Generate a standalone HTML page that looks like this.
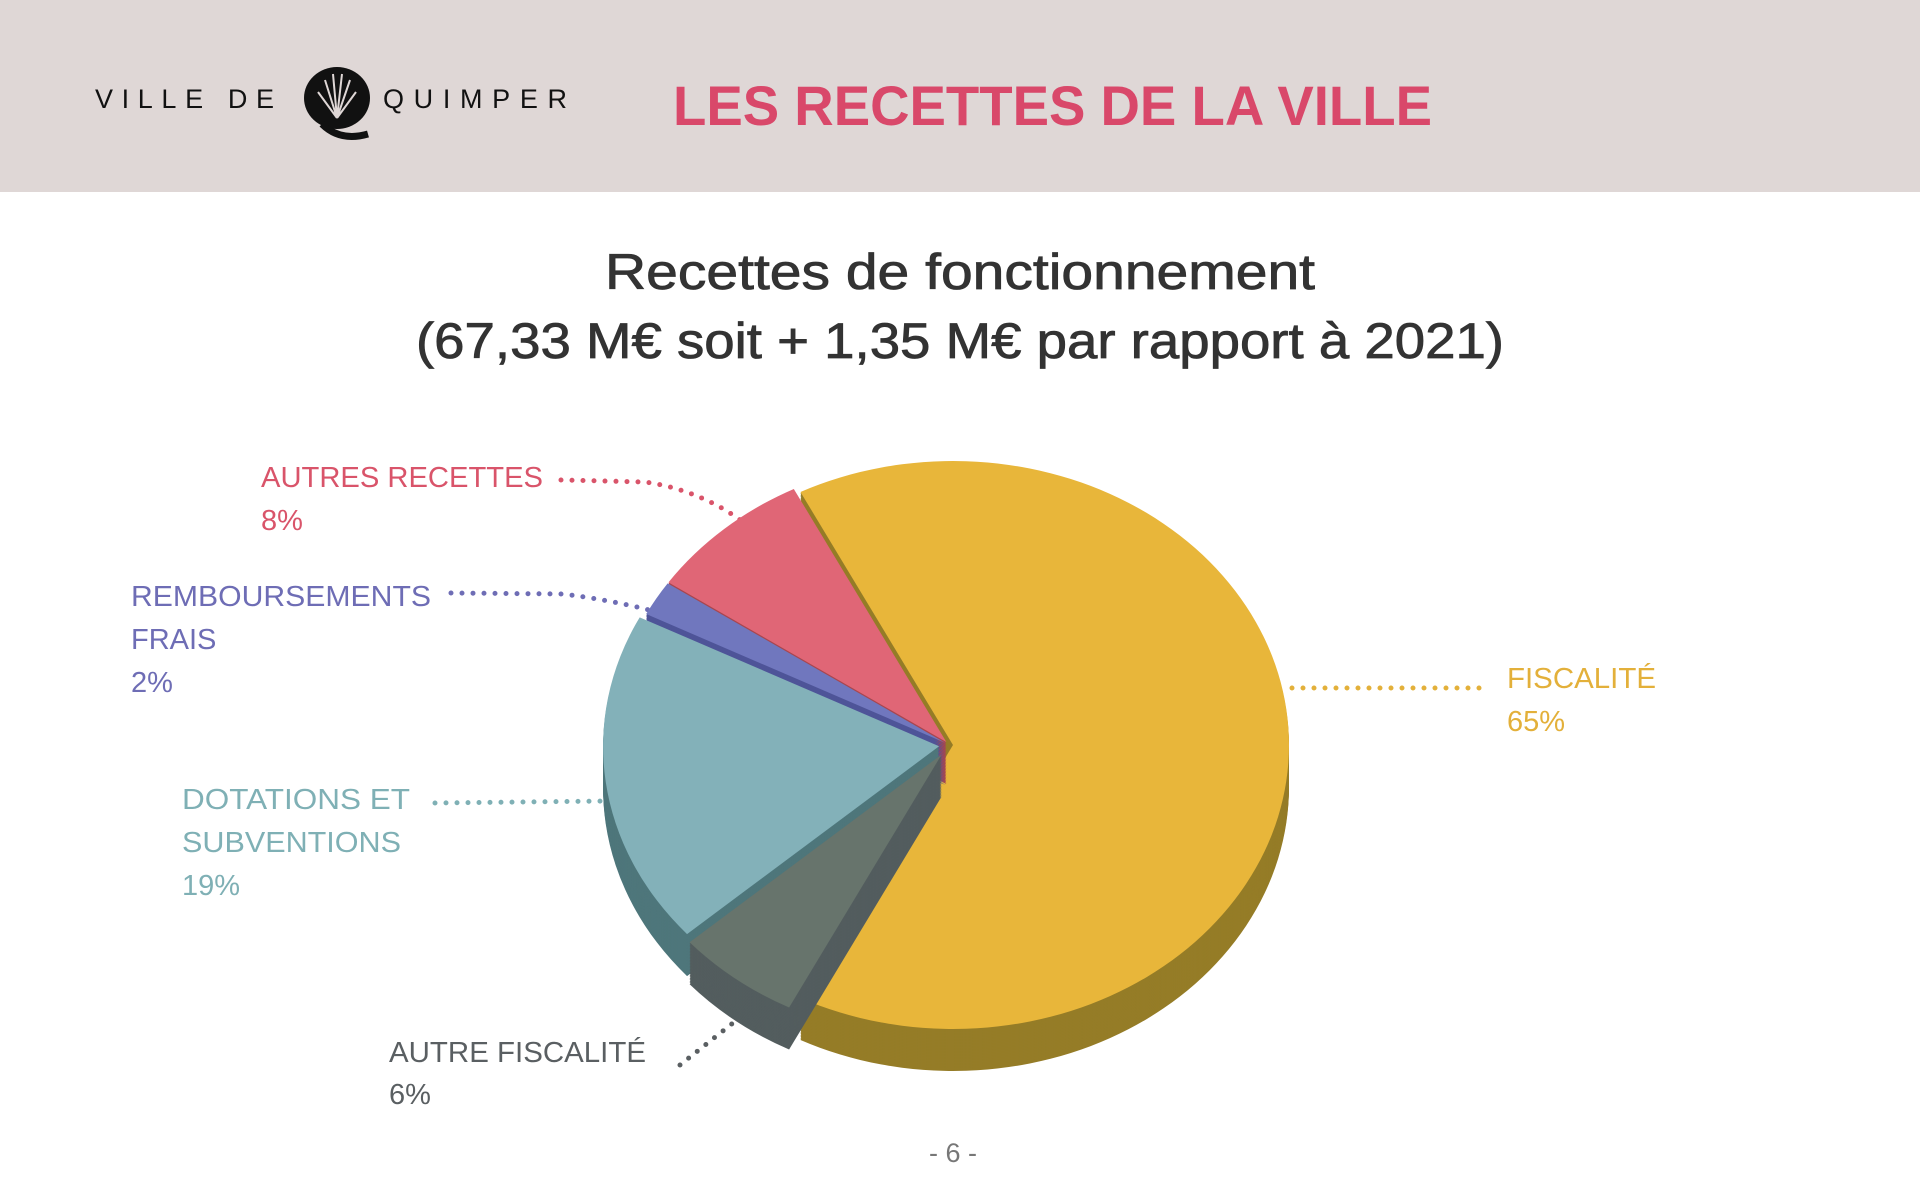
<!DOCTYPE html>
<html><head><meta charset="utf-8">
<style>
html,body{margin:0;padding:0;background:#fff;}
svg{display:block;font-family:"Liberation Sans",sans-serif;}
</style></head>
<body>
<svg id="page" width="1920" height="1201" viewBox="0 0 1920 1201" xmlns="http://www.w3.org/2000/svg">
  <rect x="0" y="0" width="1920" height="192" fill="#DFD7D6"/>
  <g>
    <text x="95" y="108" font-size="27" fill="#111" letter-spacing="9" textLength="188">VILLE DE</text>
    <g>
      <ellipse cx="337" cy="98" rx="33" ry="31" fill="#111"/>
      <path d="M322 124 Q340 142 368 134" stroke="#111" stroke-width="7" fill="none"/>
      <path d="M337 118 L325 80 M337 118 L333 74 M337 118 L342 74 M337 118 L350 80 M337 118 L318 92 M337 118 L356 92" stroke="#DFD7D6" stroke-width="2" fill="none"/>
    </g>
    <text x="383" y="108" font-size="27" fill="#111" letter-spacing="9" textLength="193">QUIMPER</text>
  </g>
  <text x="673" y="125" font-size="56" font-weight="bold" fill="#D9486A" textLength="759" lengthAdjust="spacingAndGlyphs">LES RECETTES DE LA VILLE</text>
  <text x="605" y="289" font-size="50" fill="#333" stroke="#333" stroke-width="0.8" textLength="710" lengthAdjust="spacingAndGlyphs">Recettes de fonctionnement</text>
  <text x="416" y="358" font-size="50" fill="#333" stroke="#333" stroke-width="0.8" textLength="1088" lengthAdjust="spacingAndGlyphs">(67,33 M€ soit + 1,35 M€ par rapport à 2021)</text>

  <g id="leaders" fill="none" stroke-width="5" stroke-linecap="round" stroke-dasharray="0 11">
    <path d="M561 480 L645 482 Q700 490 743 522" stroke="#D9546A"/>
    <path d="M451 593 L563 594 Q610 600 649 610" stroke="#6E6DB5"/>
    <path d="M435 803 L609 801" stroke="#7FB0B5"/>
    <path d="M680 1065 L772 992" stroke="#5A5F62"/>
    <path d="M1292 688 L1488 688" stroke="#E3B03A"/>
  </g>

  <g id="pie"></g>

  <g font-size="29">
    <g fill="#D9546A">
      <text x="261" y="487" textLength="282" lengthAdjust="spacingAndGlyphs">AUTRES RECETTES</text>
      <text x="261" y="530">8%</text>
    </g>
    <g fill="#6E6DB5">
      <text x="131" y="606" textLength="300" lengthAdjust="spacingAndGlyphs">REMBOURSEMENTS</text>
      <text x="131" y="649">FRAIS</text>
      <text x="131" y="692">2%</text>
    </g>
    <g fill="#7FB0B5">
      <text x="182" y="809" textLength="228" lengthAdjust="spacingAndGlyphs">DOTATIONS ET</text>
      <text x="182" y="852" textLength="219" lengthAdjust="spacingAndGlyphs">SUBVENTIONS</text>
      <text x="182" y="895">19%</text>
    </g>
    <g fill="#5A5F62">
      <text x="389" y="1062" textLength="257" lengthAdjust="spacingAndGlyphs">AUTRE FISCALITÉ</text>
      <text x="389" y="1104">6%</text>
    </g>
    <g fill="#E3B03A">
      <text x="1507" y="688" textLength="149" lengthAdjust="spacingAndGlyphs">FISCALITÉ</text>
      <text x="1507" y="731">65%</text>
    </g>
  </g>
  <text x="953" y="1162" font-size="27" fill="#777" text-anchor="middle">- 6 -</text>
</svg>
<script>
const categories = ["Fiscalité", "Autre fiscalité", "Dotations et subventions", "Remboursements frais", "Autres recettes"];
const values = [65, 6, 19, 2, 8];
const topColors = ["#E8B63A", "#67746C", "#83B1B9", "#7077BE", "#E06676"];
const sideColors = ["#957C27", "#535D5E", "#4E767B", "#4E5498", "#A8464F"];

const cx = 949, cy = 745, rx = 336, ry = 284, depth = 42, startDeg = -27;
const NS = "http://www.w3.org/2000/svg";
const pie = document.getElementById("pie");
const total = values.reduce((a, b) => a + b, 0);
const explode = [4, 12, 10, 4, 4];
const drawOrder = [0, 4, 3, 2, 1];
function pt(deg, ox, oy) {
  const r = deg * Math.PI / 180;
  return [cx + ox + rx * Math.sin(r), cy + oy - ry * Math.cos(r)];
}
function slicePath(a0, a1, ox, oy) {
  const p0 = pt(a0, ox, oy), p1 = pt(a1, ox, oy);
  const large = (a1 - a0) > 180 ? 1 : 0;
  return `M${cx + ox},${cy + oy} L${p0[0]},${p0[1]} A${rx},${ry} 0 ${large} 1 ${p1[0]},${p1[1]} Z`;
}
const slices = [];
let acc = startDeg;
values.forEach((v, i) => {
  const a0 = acc, a1 = acc + v / total * 360;
  acc = a1;
  const mid = (a0 + a1) / 2 * Math.PI / 180;
  const ex = explode[i];
  slices.push({ i, a0, a1, ox: ex * Math.sin(mid), oy: -ex * Math.cos(mid) });
});
drawOrder.forEach(k => {
  const s = slices[k];
  const g = document.createElementNS(NS, "g");
  
  
  for (let d = depth; d >= 1; d -= 1.5) {
    const p = document.createElementNS(NS, "path");
    
    
    p.setAttribute("d", slicePath(s.a0, s.a1, s.ox, s.oy + d));
    p.setAttribute("fill", sideColors[s.i]);
    g.appendChild(p);
  }
  const top = document.createElementNS(NS, "path");
  
  
  top.setAttribute("d", slicePath(s.a0, s.a1, s.ox, s.oy));
  top.setAttribute("fill", topColors[s.i]);
  g.appendChild(top);
  pie.appendChild(g);
});
</script>
</body></html>
